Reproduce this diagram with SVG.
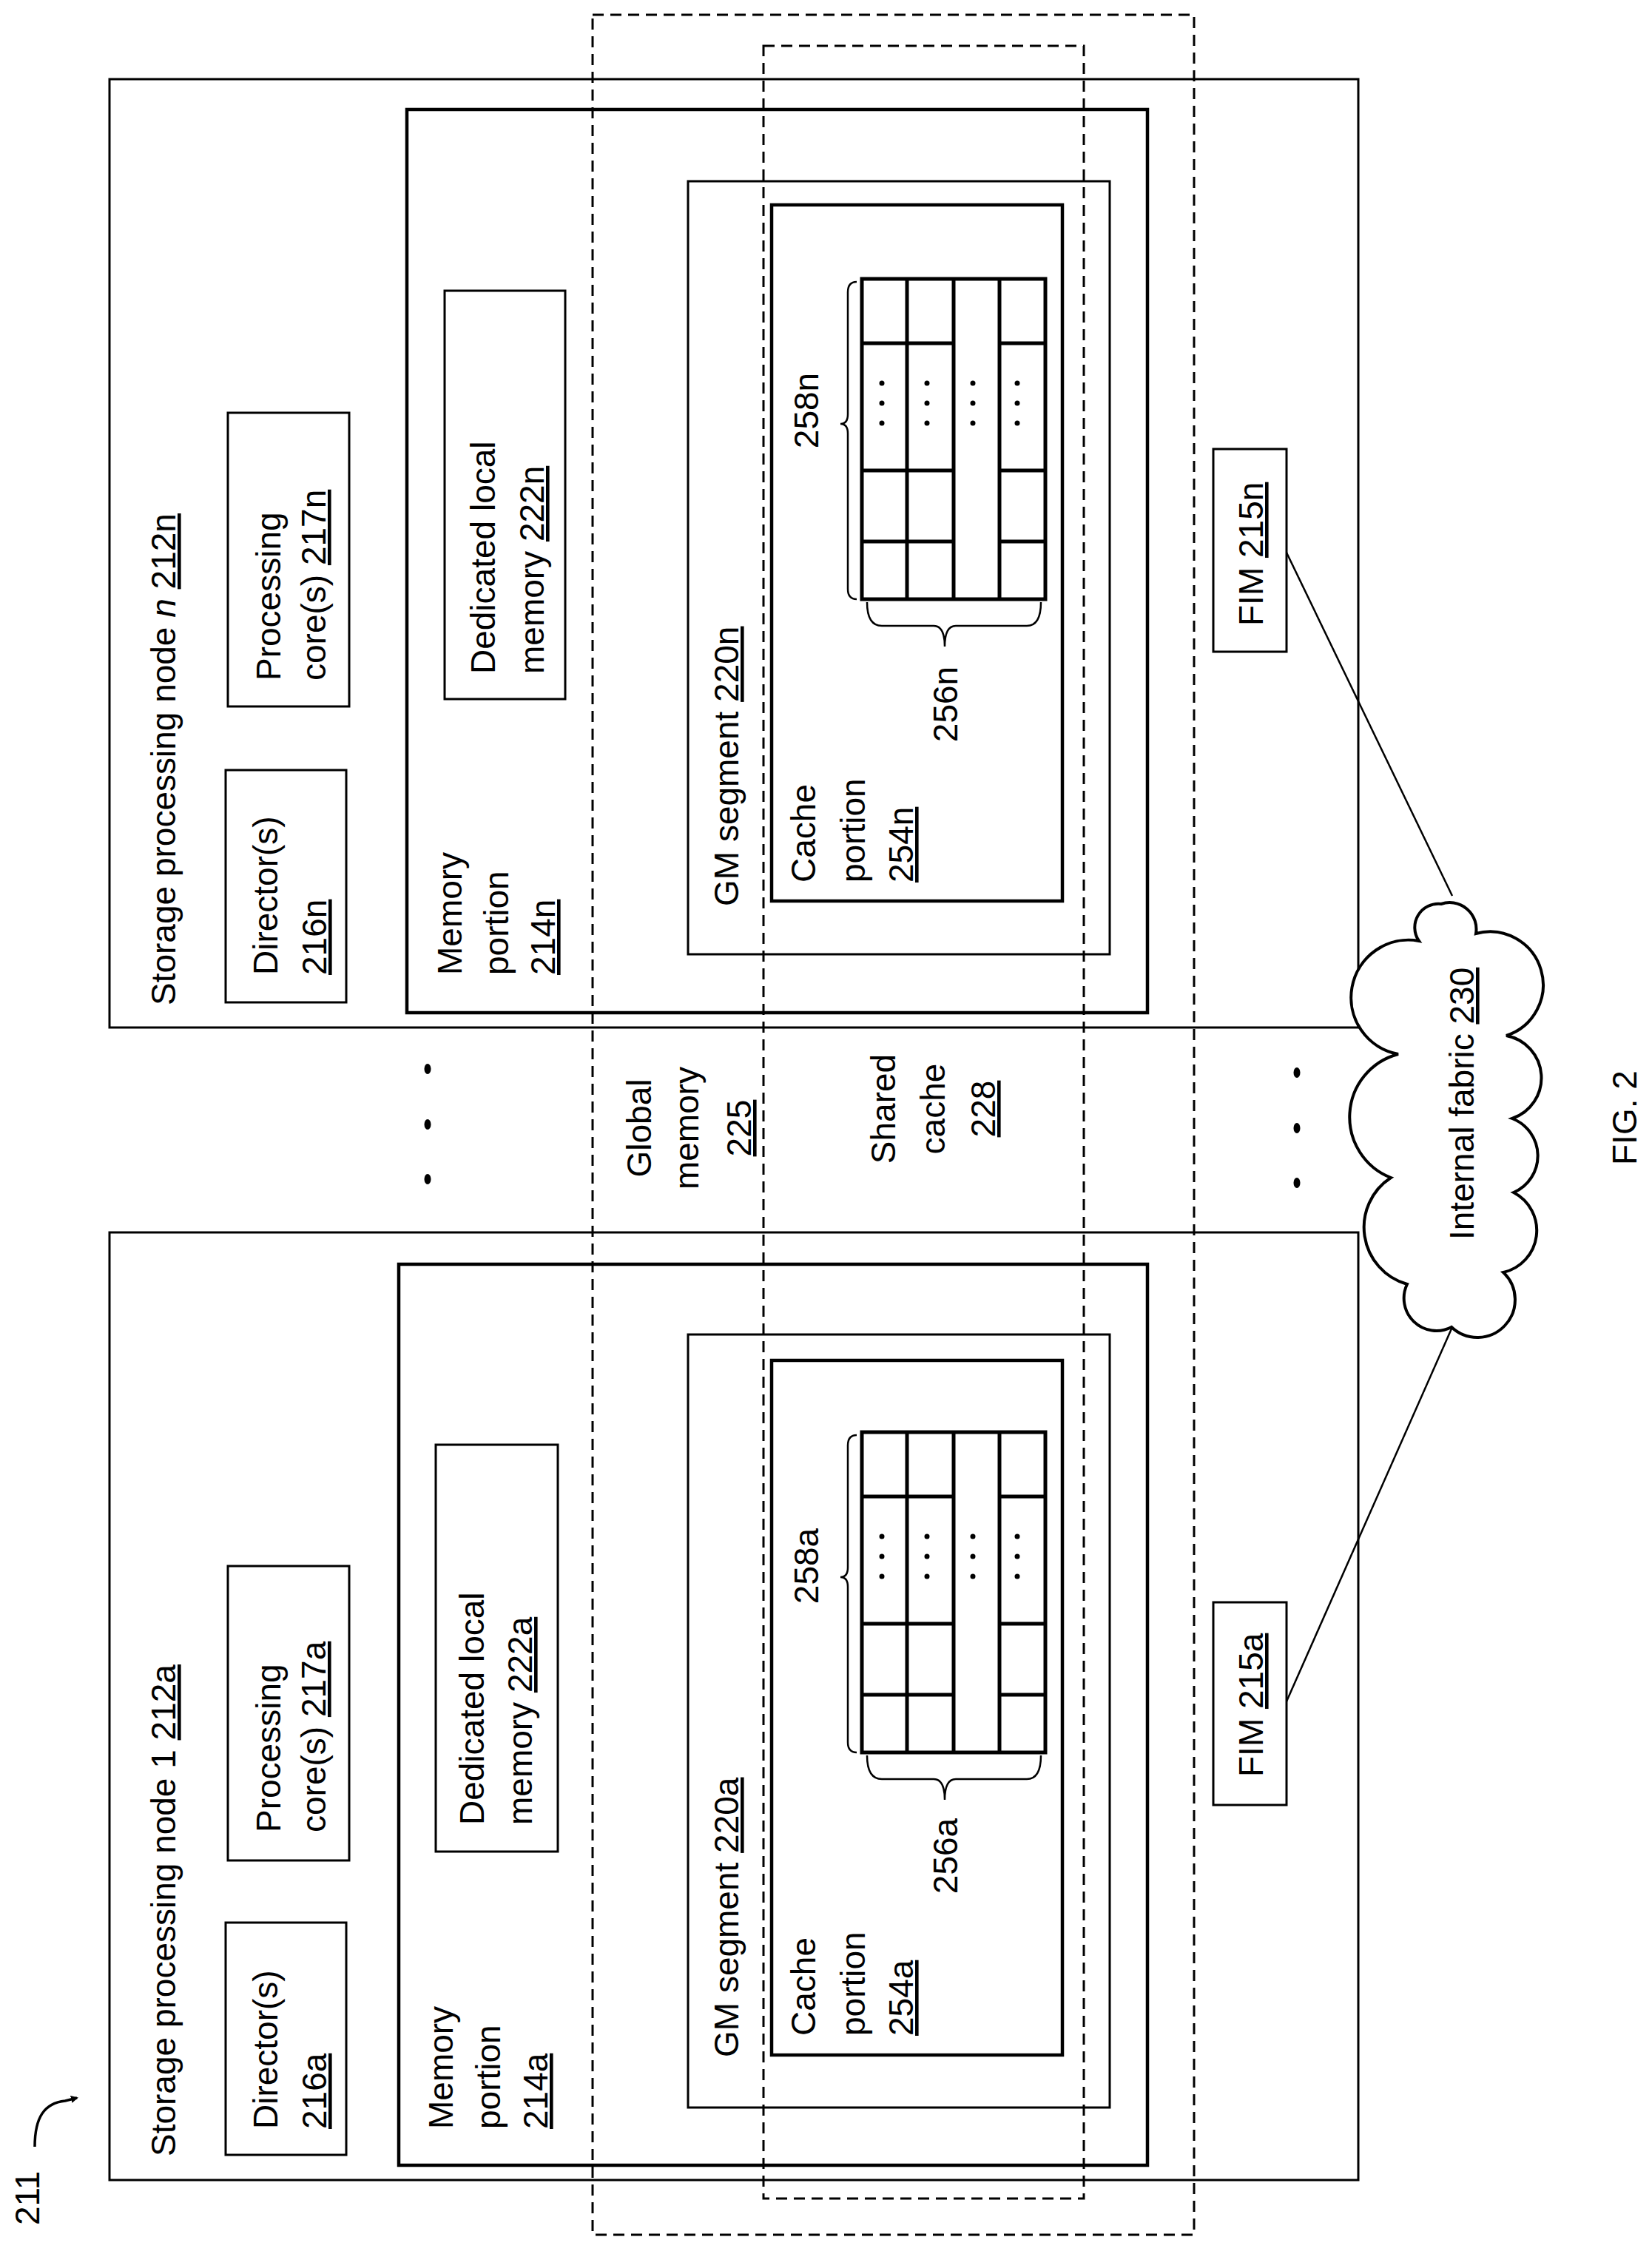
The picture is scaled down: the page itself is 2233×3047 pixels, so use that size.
<svg xmlns="http://www.w3.org/2000/svg" width="2233" height="3047" viewBox="0 0 2233 3047">
<style>
text{font-family:"Liberation Sans",Arial,sans-serif;font-size:46px;fill:#000}
.u{text-decoration:underline}
.b3{fill:none;stroke:#000;stroke-width:3}
.b4{fill:none;stroke:#000;stroke-width:4.5}
.g{fill:none;stroke:#000;stroke-width:5}
.d{fill:none;stroke:#000;stroke-width:3;stroke-dasharray:15 9}
.ln{fill:none;stroke:#000;stroke-width:2.5}
.dot{fill:#000}
</style>
<defs>
<marker id="ah" markerWidth="10" markerHeight="10" refX="8" refY="5" orient="auto" markerUnits="userSpaceOnUse" viewBox="0 0 10 10"><path d="M0,0 L10,5 L0,10 z"/></marker>
</defs>
<rect width="2233" height="3047" fill="#fff"/>

<g id="node-n">
<rect class="b3" x="148" y="107" width="1688" height="1282"/>
<text transform="translate(237,1359) rotate(-90)">Storage processing node <tspan font-style="italic">n</tspan>  <tspan class="u">212n</tspan></text>
</g>
<g id="director-n">
<rect class="b3" x="305" y="1041" width="163" height="314"/>
<text transform="translate(375,1318) rotate(-90)">Director(s)</text>
<text transform="translate(441,1318) rotate(-90)"><tspan class="u">216n</tspan></text>
</g>
<g id="proc-n">
<rect class="b3" x="308" y="558" width="164" height="397"/>
<text transform="translate(379,920) rotate(-90)">Processing</text>
<text transform="translate(440,920) rotate(-90)">core(s) <tspan class="u">217n</tspan></text>
</g>
<g id="mem-n">
<rect class="b4" x="550" y="148" width="1001" height="1221"/>
<text transform="translate(624,1318) rotate(-90)">Memory</text>
<text transform="translate(687,1318) rotate(-90)">portion</text>
<text transform="translate(750,1318) rotate(-90)"><tspan class="u">214n</tspan></text>
</g>
<g id="ded-n">
<rect class="b3" x="601" y="393" width="163" height="552"/>
<text transform="translate(669,911) rotate(-90)">Dedicated local</text>
<text transform="translate(735,911) rotate(-90)">memory  <tspan class="u">222n</tspan></text>
</g>
<g id="gm-n">
<rect class="b3" x="930" y="245" width="570" height="1045"/>
<text transform="translate(998,1225) rotate(-90)">GM segment <tspan class="u">220n</tspan></text>
</g>
<g id="cache-n">
<rect class="b4" x="1043" y="277" width="393" height="941"/>
<text transform="translate(1102,1193) rotate(-90)">Cache</text>
<text transform="translate(1169,1193) rotate(-90)">portion</text>
<text transform="translate(1234,1193) rotate(-90)"><tspan class="u">254n</tspan></text>
</g>
<g id="grid-n">
<rect class="g" x="1165" y="377" width="248" height="433"/>
<path class="g" d="M1226,377V810M1289,377V810M1351,377V810M1165,464H1289M1351,464H1413M1165,636H1289M1351,636H1413M1165,732H1289M1351,732H1413"/>
<g class="dot">
<circle cx="1192" cy="518" r="3.5"/><circle cx="1192" cy="545" r="3.5"/><circle cx="1192" cy="572" r="3.5"/>
<circle cx="1253" cy="518" r="3.5"/><circle cx="1253" cy="545" r="3.5"/><circle cx="1253" cy="572" r="3.5"/>
<circle cx="1315" cy="518" r="3.5"/><circle cx="1315" cy="545" r="3.5"/><circle cx="1315" cy="572" r="3.5"/>
<circle cx="1375" cy="518" r="3.5"/><circle cx="1375" cy="545" r="3.5"/><circle cx="1375" cy="572" r="3.5"/>
</g>
<path class="ln" d="M1158,381 Q1146,381 1146,395 L1146,560 Q1146,573 1136,573 Q1146,573 1146,586 L1146,796 Q1146,810 1158,810"/>
<path class="ln" d="M1172,814 Q1172,846 1192,846 L1262,846 Q1277,846 1277,874 Q1277,846 1292,846 L1388,846 Q1407,846 1407,814"/>
<text transform="translate(1106,555) rotate(-90)" text-anchor="middle">258n</text>
<text transform="translate(1294,952) rotate(-90)" text-anchor="middle">256n</text>
</g>
<g id="fim-n">
<rect class="b3" x="1640" y="607" width="99" height="274"/>
<text transform="translate(1707,846) rotate(-90)">FIM <tspan class="u">215n</tspan></text>
</g>

<g id="node-1">
<rect class="b3" x="148" y="1666" width="1688" height="1281"/>
<text transform="translate(237,2915) rotate(-90)">Storage processing node 1  <tspan class="u">212a</tspan></text>
</g>
<g id="director-a">
<rect class="b3" x="305" y="2599" width="163" height="314"/>
<text transform="translate(375,2878) rotate(-90)">Director(s)</text>
<text transform="translate(441,2878) rotate(-90)"><tspan class="u">216a</tspan></text>
</g>
<g id="proc-a">
<rect class="b3" x="308" y="2117" width="164" height="398"/>
<text transform="translate(379,2477) rotate(-90)">Processing</text>
<text transform="translate(440,2477) rotate(-90)">core(s) <tspan class="u">217a</tspan></text>
</g>
<g id="mem-a">
<rect class="b4" x="539" y="1709" width="1012" height="1218"/>
<text transform="translate(612,2878) rotate(-90)">Memory</text>
<text transform="translate(676,2878) rotate(-90)">portion</text>
<text transform="translate(740,2878) rotate(-90)"><tspan class="u">214a</tspan></text>
</g>
<g id="ded-a">
<rect class="b3" x="589" y="1953" width="165" height="550"/>
<text transform="translate(654,2467) rotate(-90)">Dedicated local</text>
<text transform="translate(719,2467) rotate(-90)">memory  <tspan class="u">222a</tspan></text>
</g>
<g id="gm-a">
<rect class="b3" x="930" y="1804" width="570" height="1045"/>
<text transform="translate(998,2781) rotate(-90)">GM segment <tspan class="u">220a</tspan></text>
</g>
<g id="cache-a">
<rect class="b4" x="1043" y="1839" width="393" height="939"/>
<text transform="translate(1102,2752) rotate(-90)">Cache</text>
<text transform="translate(1169,2752) rotate(-90)">portion</text>
<text transform="translate(1234,2752) rotate(-90)"><tspan class="u">254a</tspan></text>
</g>
<g id="grid-a" transform="translate(0,1559)">
<rect class="g" x="1165" y="377" width="248" height="433"/>
<path class="g" d="M1226,377V810M1289,377V810M1351,377V810M1165,464H1289M1351,464H1413M1165,636H1289M1351,636H1413M1165,732H1289M1351,732H1413"/>
<g class="dot">
<circle cx="1192" cy="518" r="3.5"/><circle cx="1192" cy="545" r="3.5"/><circle cx="1192" cy="572" r="3.5"/>
<circle cx="1253" cy="518" r="3.5"/><circle cx="1253" cy="545" r="3.5"/><circle cx="1253" cy="572" r="3.5"/>
<circle cx="1315" cy="518" r="3.5"/><circle cx="1315" cy="545" r="3.5"/><circle cx="1315" cy="572" r="3.5"/>
<circle cx="1375" cy="518" r="3.5"/><circle cx="1375" cy="545" r="3.5"/><circle cx="1375" cy="572" r="3.5"/>
</g>
<path class="ln" d="M1158,381 Q1146,381 1146,395 L1146,560 Q1146,573 1136,573 Q1146,573 1146,586 L1146,796 Q1146,810 1158,810"/>
<path class="ln" d="M1172,814 Q1172,846 1192,846 L1262,846 Q1277,846 1277,874 Q1277,846 1292,846 L1388,846 Q1407,846 1407,814"/>
<text transform="translate(1106,558) rotate(-90)" text-anchor="middle">258a</text>
<text transform="translate(1294,950) rotate(-90)" text-anchor="middle">256a</text>
</g>
<g id="fim-a">
<rect class="b3" x="1640" y="2166" width="99" height="274"/>
<text transform="translate(1707,2402) rotate(-90)">FIM <tspan class="u">215a</tspan></text>
</g>

<g id="global-memory">
<rect class="d" x="801" y="20" width="813" height="3001"/>
<text transform="translate(880,1525) rotate(-90)" text-anchor="middle">Global</text>
<text transform="translate(944,1525) rotate(-90)" text-anchor="middle">memory</text>
<text transform="translate(1015,1525) rotate(-90)" text-anchor="middle"><tspan class="u">225</tspan></text>
</g>
<g id="shared-cache">
<rect class="d" x="1032" y="62" width="433" height="2910"/>
<text transform="translate(1210,1499) rotate(-90)" text-anchor="middle">Shared</text>
<text transform="translate(1277,1499) rotate(-90)" text-anchor="middle">cache</text>
<text transform="translate(1345,1499) rotate(-90)" text-anchor="middle"><tspan class="u">228</tspan></text>
</g>

<g id="ellipsis">
<ellipse class="dot" cx="578" cy="1445" rx="4.5" ry="7"/>
<ellipse class="dot" cx="578" cy="1520" rx="4.5" ry="7"/>
<ellipse class="dot" cx="578" cy="1594" rx="4.5" ry="7"/>
<ellipse class="dot" cx="1753" cy="1450" rx="4.5" ry="7"/>
<ellipse class="dot" cx="1753" cy="1525" rx="4.5" ry="7"/>
<ellipse class="dot" cx="1753" cy="1599" rx="4.5" ry="7"/>
</g>

<g id="internal-fabric">
<path fill="#fff" stroke="#000" stroke-width="4" d="M1918,1272 A32,32 0 0 1 1948,1222 A36,36 0 0 1 1995,1262 A72,72 0 0 1 2036,1400 A58,58 0 0 1 2044,1512 A54,54 0 0 1 2046,1612 A58,58 0 0 1 2032,1720 A48,48 0 0 1 1962,1794 A44,44 0 0 1 1902,1736 A80,80 0 0 1 1880,1592 A88,88 0 0 1 1890,1425 A72,72 0 0 1 1918,1272 Z"/>
<text transform="translate(1992,1676) rotate(-90)" font-size="44">Internal fabric <tspan class="u">230</tspan></text>
</g>

<g id="connectors">
<line class="ln" x1="1739" y1="747" x2="1963" y2="1211"/>
<line class="ln" x1="1739" y1="2300" x2="1963" y2="1794"/>
<path fill="none" stroke="#000" stroke-width="3.5" d="M47,2902 C47,2862 60,2843 88,2840 L104,2836" marker-end="url(#ah)"/>
</g>

<text transform="translate(53,3008) rotate(-90)">211</text>
<text transform="translate(2212,1575) rotate(-90)" font-size="52">FIG. 2</text>
</svg>
